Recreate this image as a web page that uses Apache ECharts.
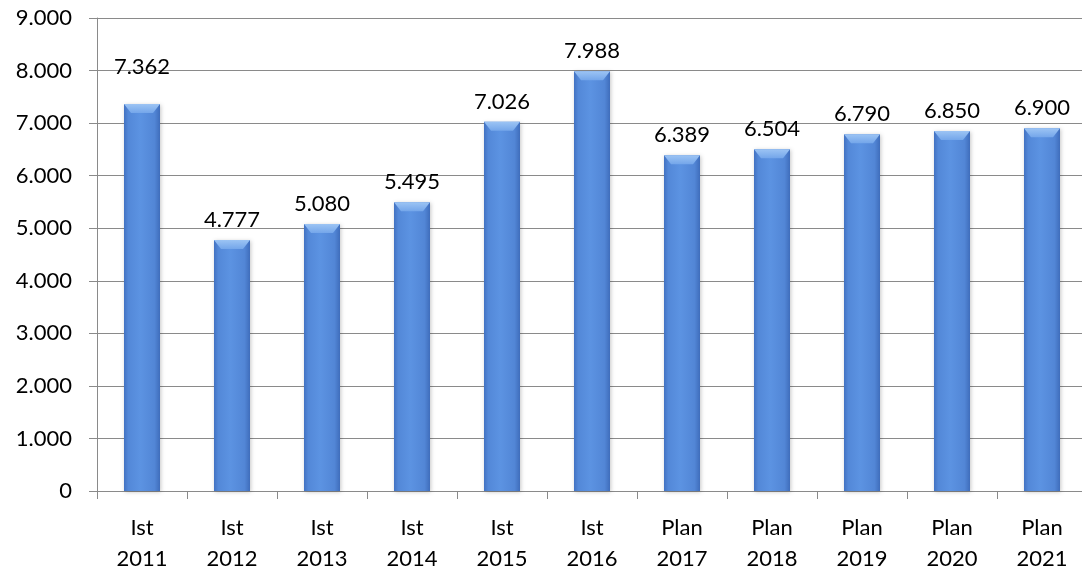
<!DOCTYPE html>
<html>
<head>
<meta charset="utf-8">
<script src="https://cdn.jsdelivr.net/npm/echarts@6/dist/echarts.min.js"></script>
<style>
  html, body { margin: 0; padding: 0; background: #fff; }
  #chart { width: 1082px; height: 568px; }
</style>
</head>
<body>
<div id="chart"></div>
<script>
// Categories: status (Ist / Plan) and year
const statuses = ['Ist', 'Ist', 'Ist', 'Ist', 'Ist', 'Ist', 'Plan', 'Plan', 'Plan', 'Plan', 'Plan'];
const years = ['2011', '2012', '2013', '2014', '2015', '2016', '2017', '2018', '2019', '2020', '2021'];
const values = [7362, 4777, 5080, 5495, 7026, 7988, 6389, 6504, 6790, 6850, 6900];
const yTicks = [0, 1000, 2000, 3000, 4000, 5000, 6000, 7000, 8000, 9000];

const categories = statuses.map((s, i) => s + '\n' + years[i]);

// German thousands separator: 7362 -> "7.362"
function fmt(v) {
  return String(Math.round(v)).replace(/\B(?=(\d{3})+(?!\d))/g, '.');
}

const FONT = 'Lato, "Open Sans", sans-serif';
const GRID_COLOR = '#8a8a8a';
const BAR_W = 36;

const barGradient = new echarts.graphic.LinearGradient(0, 0, 1, 0, [
  { offset: 0, color: '#4272c2' },
  { offset: 0.12, color: '#5388d8' },
  { offset: 0.45, color: '#5c93e2' },
  { offset: 0.85, color: '#5286d6' },
  { offset: 1, color: '#3f6dbb' }
]);

const chart = echarts.init(document.getElementById('chart'), null, { renderer: 'canvas' });

chart.setOption({
  animation: false,
  backgroundColor: '#ffffff',
  grid: {
    left: 97, top: 18, width: 990, height: 473,
    containLabel: false, outerBoundsMode: 'none'
  },
  xAxis: {
    type: 'category',
    data: categories,
    axisLine: { show: true, lineStyle: { color: GRID_COLOR, width: 1 } },
    axisTick: { show: true, length: 8, lineStyle: { color: GRID_COLOR } },
    axisLabel: {
      color: '#000', fontFamily: FONT, fontSize: 22, lineHeight: 31, margin: 21, interval: 0
    }
  },
  yAxis: {
    type: 'value',
    min: yTicks[0],
    max: yTicks[yTicks.length - 1],
    interval: 1000,
    axisLine: { show: true, lineStyle: { color: GRID_COLOR, width: 1 } },
    axisTick: { show: true, length: 8, lineStyle: { color: GRID_COLOR } },
    splitLine: { show: true, lineStyle: { color: GRID_COLOR, width: 1 } },
    axisLabel: {
      color: '#000', fontFamily: FONT, fontSize: 22, margin: 25,
      formatter: v => fmt(v)
    }
  },
  series: [
    {
      type: 'bar',
      barWidth: BAR_W,
      data: values.map((v, i) => i === 0
        ? { value: v, label: { offset: [0, -17] } }
        : v),
      itemStyle: {
        color: barGradient,
        shadowColor: 'rgba(0,0,0,0.22)',
        shadowBlur: 4,
        shadowOffsetX: 1,
        shadowOffsetY: 1
      },
      label: {
        show: true,
        position: 'top',
        distance: 9,
        color: '#000',
        fontFamily: FONT,
        fontSize: 22,
        formatter: p => fmt(p.value)
      },
      z: 2
    },
    {
      // light bevelled cap on top of each bar
      type: 'custom',
      data: values.map((v, i) => [i, v]),
      z: 3,
      silent: true,
      renderItem: function (params, api) {
        const top = api.coord([api.value(0), api.value(1)]);
        const half = BAR_W / 2;
        const x0 = top[0] - half, x1 = top[0] + half, y = top[1];
        const d = 7;
        return {
          type: 'polygon',
          shape: { points: [[x0, y], [x1, y], [x1 - d, y + d + 2], [x0 + d, y + d + 2]] },
          style: {
            fill: new echarts.graphic.LinearGradient(0, 0, 0, 1, [
              { offset: 0, color: '#9cc4f4' },
              { offset: 1, color: '#74a6ea' }
            ])
          }
        };
      }
    }
  ]
});
</script>
</body>
</html>
